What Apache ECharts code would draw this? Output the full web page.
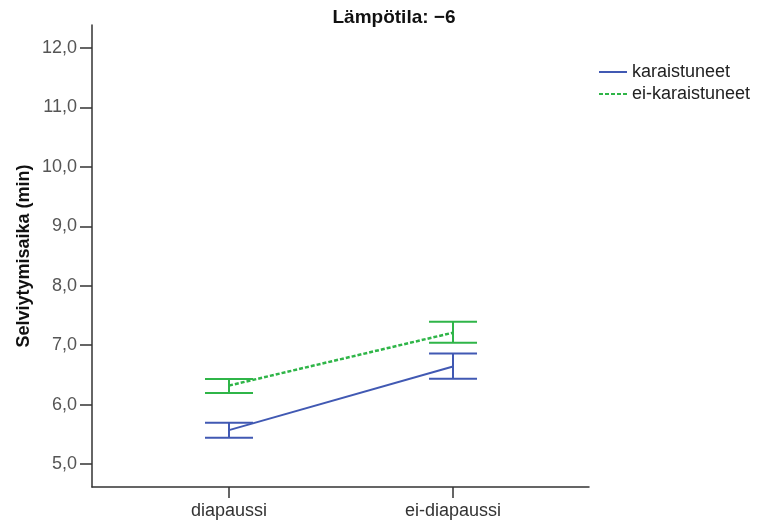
<!DOCTYPE html>
<html><head><meta charset="utf-8">
<script src="https://cdn.jsdelivr.net/npm/echarts@6/dist/echarts.min.js"></script>
<style>html,body{margin:0;padding:0;background:#fff}#c{width:769px;height:522px}</style>
</head><body><div id="c"></div>
<script>
const categories = ['diapaussi', 'ei-diapaussi'];
const seriesNames = ['karaistuneet', 'ei-karaistuneet'];
const meansKar = [5.57, 6.64];
const lowKar = [5.44, 6.435];
const highKar = [5.695, 6.86];
const meansEi = [6.32, 7.21];
const lowEi = [6.195, 7.04];
const highEi = [6.43, 7.395];
const yTicks = [5, 6, 7, 8, 9, 10, 11, 12];

const blue = '#4159b3';
const green = '#2fb548';
const font = 'Liberation Sans';

function lineData(m) { return m.map((v, i) => [i + 1, v]); }
function errData(lo, hi) { return lo.map((v, i) => [i + 1, v, hi[i]]); }
function errSeries(lo, hi, color) {
  return {
    type: 'custom',
    data: errData(lo, hi),
    encode: { x: 0, y: [1, 2] },
    silent: true,
    z: 3,
    renderItem: function (params, api) {
      const x = api.value(0);
      const pLo = api.coord([x, api.value(1)]);
      const pHi = api.coord([x, api.value(2)]);
      const hw = 24;
      const st = { stroke: color, lineWidth: 2 };
      return {
        type: 'group',
        children: [
          { type: 'line', shape: { x1: pLo[0], y1: pLo[1], x2: pHi[0], y2: pHi[1] }, style: st },
          { type: 'line', shape: { x1: pLo[0] - hw, y1: pLo[1], x2: pLo[0] + hw, y2: pLo[1] }, style: st },
          { type: 'line', shape: { x1: pHi[0] - hw, y1: pHi[1], x2: pHi[0] + hw, y2: pHi[1] }, style: st }
        ]
      };
    }
  };
}

const chart = echarts.init(document.getElementById('c'));
chart.setOption({
  animation: false,
  backgroundColor: '#fff',
  textStyle: { fontFamily: font },
  title: {
    text: 'Lämpötila: −6',
    left: 389,
    textAlign: 'center',
    top: 3,
    textStyle: { fontFamily: font, fontSize: 19, fontWeight: 'bold', color: '#111' }
  },
  legend: {
    data: seriesNames,
    orient: 'vertical',
    left: 598,
    top: 63,
    padding: 0,
    itemWidth: 28,
    itemHeight: 14,
    itemGap: 4,
    itemStyle: { opacity: 0 },
    textStyle: { fontFamily: font, fontSize: 18, lineHeight: 18, color: '#222' }
  },
  grid: { left: 92, right: 180, top: 25, bottom: 35 },
  xAxis: {
    type: 'value',
    min: 0.3884,
    max: 2.607,
    splitLine: { show: false },
    axisLine: { show: true, lineStyle: { color: '#333', width: 1.5 } },
    axisTick: { show: true, customValues: [1, 2], length: 11, lineStyle: { color: '#333', width: 1.5 } },
    axisLabel: {
      customValues: [1, 2],
      formatter: v => categories[Math.round(v) - 1] || '',
      fontFamily: font, fontSize: 18, color: '#333', margin: 15
    }
  },
  yAxis: {
    type: 'value',
    min: 4.613,
    max: 12.387,
    name: 'Selviytymisaika (min)',
    nameLocation: 'middle',
    nameGap: 59,
    nameMoveOverlap: false,
    nameTextStyle: { fontFamily: font, fontSize: 18, fontWeight: 'bold', color: '#111' },
    splitLine: { show: false },
    axisLine: { show: true, lineStyle: { color: '#333', width: 1.5 } },
    axisTick: { show: true, customValues: yTicks, length: 12, lineStyle: { color: '#333', width: 1.5 } },
    axisLabel: {
      customValues: yTicks,
      formatter: v => v.toFixed(1).replace('.', ','),
      fontFamily: font, fontSize: 18, color: '#555', margin: 15
    }
  },
  series: [
    {
      name: seriesNames[0], type: 'line', data: lineData(meansKar),
      symbol: 'none', lineStyle: { color: blue, width: 2 }, itemStyle: { color: blue }, z: 4
    },
    {
      name: seriesNames[1], type: 'line', data: lineData(meansEi),
      symbol: 'none', lineStyle: { color: green, width: 2.5, type: [4, 2] }, itemStyle: { color: green }, z: 4
    },
    errSeries(lowKar, highKar, blue),
    errSeries(lowEi, highEi, green)
  ]
});
</script></body></html>
